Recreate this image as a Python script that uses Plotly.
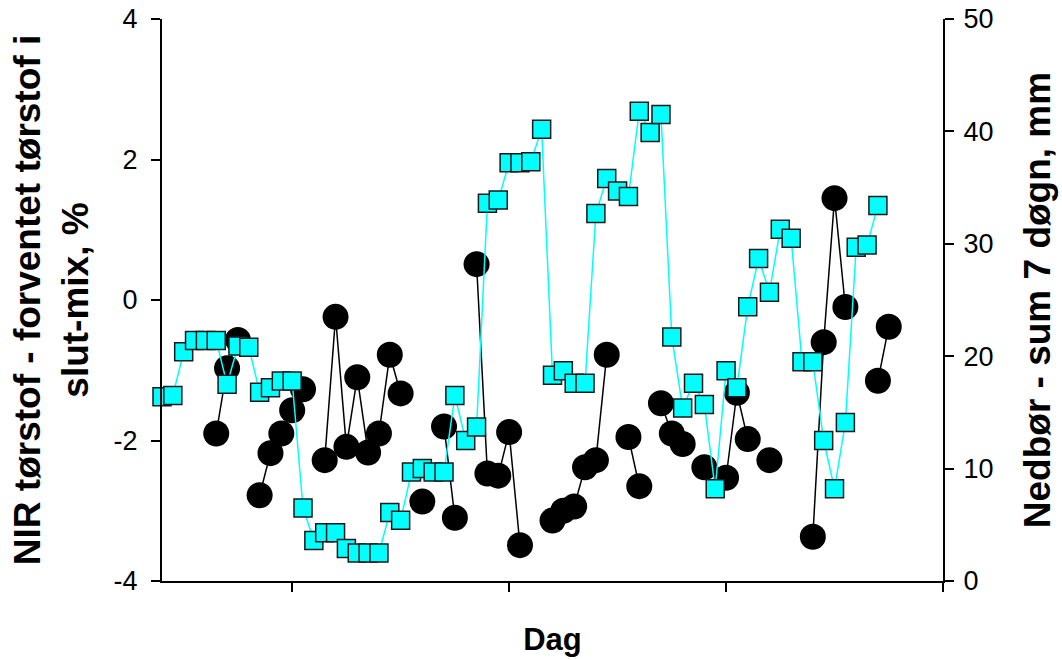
import plotly.graph_objects as go

# Day index (x)
days = list(range(0, 68))

# Left axis: NIR tørstof - forventet tørstof i slut-mix, %
nir_diff = [
    None, None, None, None, None, -1.9, -0.97, -0.57, None, -2.78,
    -2.18, -1.9, -1.57, -1.27, None, -2.28, -0.24, -2.09, -1.1, -2.17,
    -1.9, -0.78, -1.33, None, -2.87, None, -1.8, -3.1, None, 0.51,
    -2.47, -2.5, -1.88, -3.49, None, None, -3.14, -3.0, -2.94, -2.38,
    -2.28, -0.78, None, -1.95, -2.65, None, -1.47, -1.9, -2.05, None,
    -2.38, None, -2.53, -1.32, -1.98, None, -2.28, None, None, None,
    -3.37, -0.6, 1.45, -0.1, None, None, -1.15, -0.38,
]

# Right axis: Nedbør - sum 7 døgn, mm
rain_7d = [
    16.4, 16.5, 20.4, 21.4, 21.4, 21.4, 17.5, 20.9, 20.8, 16.8,
    17.2, 17.8, 17.8, 6.5, 3.6, 4.3, 4.3, 2.9, 2.5, 2.5,
    2.5, 6.1, 5.4, 9.7, 10.0, 9.7, 9.7, 16.5, 12.5, 13.7,
    33.6, 33.9, 37.2, 37.2, 37.3, 40.2, 18.3, 18.7, 17.6, 17.6,
    32.7, 35.8, 34.7, 34.2, 41.8, 39.9, 41.5, 21.7, 15.4, 17.6,
    15.7, 8.2, 18.7, 17.2, 24.4, 28.7, 25.7, 31.3, 30.5, 19.5,
    19.5, 12.5, 8.2, 14.1, 29.7, 29.9, 33.4, None,
]

x_ticks = [12, 32, 52, 72]
y_left_ticks = [-4, -2, 0, 2, 4]
y_right_ticks = [0, 10, 20, 30, 40, 50]

FONT = "Arial, Liberation Sans, sans-serif"

fig = go.Figure()

fig.add_trace(go.Scatter(
    x=days, y=nir_diff, mode="lines+markers", connectgaps=False,
    line=dict(color="black", width=1.5),
    marker=dict(symbol="circle", size=26, color="black"),
    cliponaxis=False, showlegend=False, yaxis="y",
))

fig.add_trace(go.Scatter(
    x=days, y=rain_7d, mode="lines+markers", connectgaps=False,
    line=dict(color="#00FFFF", width=1.5),
    marker=dict(symbol="square", size=18, color="#00FFFF",
                line=dict(color="#1a1a1a", width=1.5)),
    cliponaxis=False, showlegend=False, yaxis="y2",
))

axis_common = dict(
    showgrid=False, zeroline=False, showline=True, linecolor="black",
    linewidth=2, ticks="outside", ticklen=9, tickwidth=1.5, tickcolor="black",
    automargin=False,
)

fig.update_layout(
    width=1062, height=660,
    margin=dict(l=162, r=119, t=19, b=79),
    paper_bgcolor="white", plot_bgcolor="white",
    font=dict(family=FONT, color="black", size=27),
    xaxis=dict(
        range=[0, 72], tickvals=x_ticks, ticktext=["", "", "", ""],
        title=dict(text="<b>Dag</b>", font=dict(size=31), standoff=32),
        **axis_common,
    ),
    yaxis=dict(
        range=[-4, 4], tickvals=y_left_ticks,
        ticktext=[str(v) for v in y_left_ticks],
        ticklabelstandoff=8,
        title=dict(text="<b>NIR tørstof - forventet tørstof i<br>slut-mix, %</b>",
                   font=dict(size=37), standoff=14),
        **axis_common,
    ),
    yaxis2=dict(
        range=[0, 50], tickvals=y_right_ticks,
        ticktext=[str(v) for v in y_right_ticks],
        ticklabelstandoff=4,
        overlaying="y", side="right",
        title=dict(text="<b>Nedbør - sum 7 døgn, mm</b>",
                   font=dict(size=37), standoff=32),
        **axis_common,
    ),
)

fig.write_html("out.html")
